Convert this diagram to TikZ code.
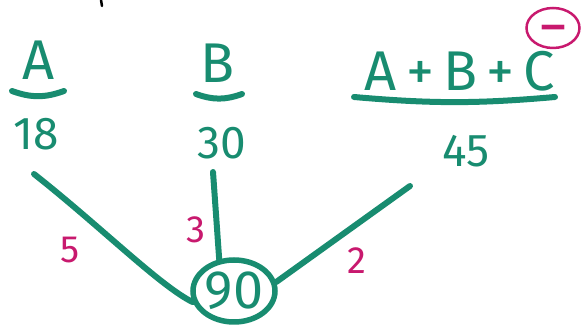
\documentclass[tikz,border=0pt]{standalone}
\usepackage{fontspec}
\setmainfont{Fira Sans}
\usetikzlibrary{shapes.geometric}
\definecolor{inkg}{RGB}{24,140,112}
\definecolor{inkm}{RGB}{200,25,110}

\begin{document}
\begin{tikzpicture}[x=1pt,y=-1pt,
  big/.style={text=inkg,inner sep=0pt,font=\fontsize{56}{56}\selectfont},
  num/.style={text=inkg,inner sep=0pt,font=\fontsize{46}{46}\selectfont},
  wt/.style={text=inkm,inner sep=0pt,font=\fontsize{38}{38}\selectfont},
  uline/.style={draw=inkg,line width=6pt,line cap=round},
  link/.style={draw=inkg,line width=6pt,line cap=round}]
\useasboundingbox (0,0) rectangle (582,336);

%============================== top row ==============================
\draw[line width=2.5pt,line cap=round] (101,0) -- (102,6);

\node[big] (A) at (39,60) {A};
\node[big] (B) at (218,63) {B};
\node[big] (ABC) at (460,71) {A\,+\,B\,+\,C};
\draw[uline] (12,91) to[bend right=20] (64,91);
\draw[uline] (196,94) to[bend right=20] (242,94);
\draw[uline] (354,97) to[bend right=5] (555,97);

\node[draw=inkm,line width=2.5pt,ellipse,inner sep=-12pt,minimum width=53pt,minimum height=40pt,
      text height=40pt,text depth=0pt,text=inkm,font=\fontsize{60}{60}\selectfont] (neg) at (553,28) {−};

\node[num] (n18) at (36,134) {18};
\node[num] (n30) at (222,143) {30};
\node[num] (n45) at (466,151) {45};

%============================== the joins ==============================
\node[draw=inkg,line width=5.5pt,ellipse,inner sep=-6pt,minimum width=82pt,minimum height=62pt,
      text=inkg,font=\fontsize{54}{54}\selectfont] (c90) at (234,291) {90};

\coordinate (s18) at (34,174);
\coordinate (s30) at (213,172);
\coordinate (s45) at (410,186);
\draw[link] (s18) .. controls (100,226) and (160,286) .. (c90.195);
\draw[link] (s30) -- (c90.115);
\draw[link] (s45) -- (c90.12);

\node[wt] (w5) at (70,250) {5};
\node[wt] (w3) at (196,230) {3};
\node[wt] (w2) at (357,261) {2};
\end{tikzpicture}
\end{document}
